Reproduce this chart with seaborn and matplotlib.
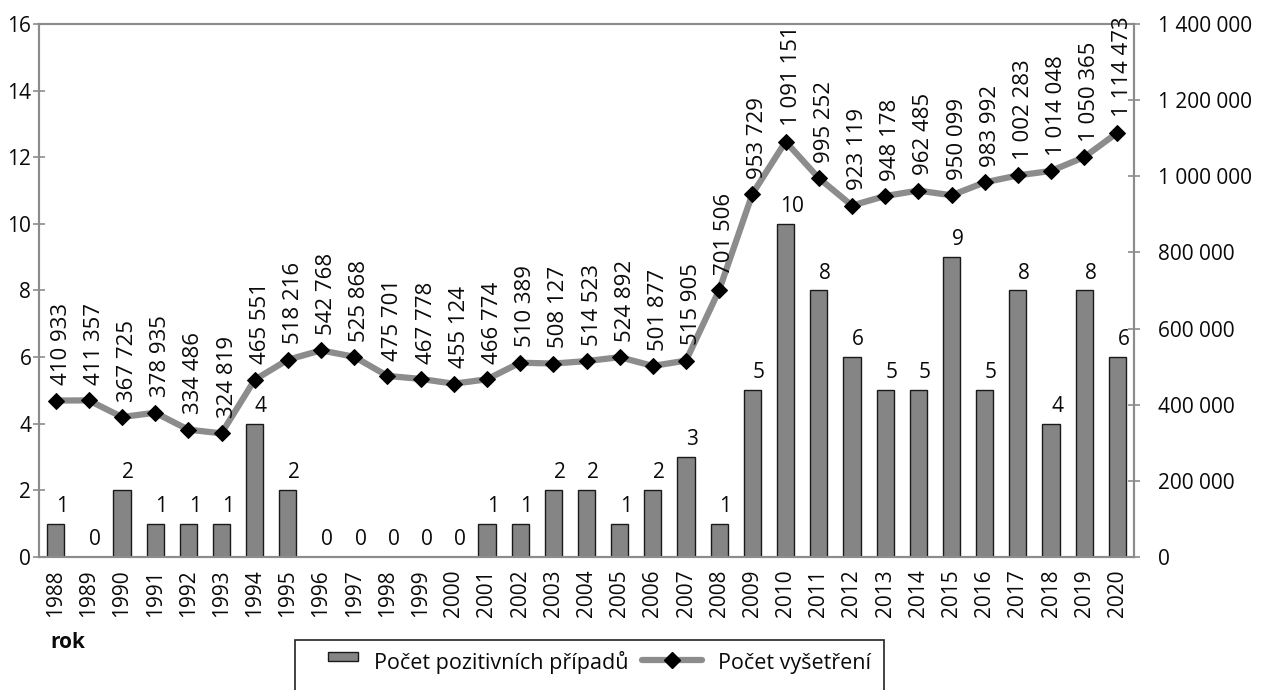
import numpy as np
import pandas as pd
import matplotlib
matplotlib.use("Agg")
import matplotlib.pyplot as plt
import seaborn as sns
from matplotlib.patches import Rectangle
from matplotlib.lines import Line2D
from matplotlib.legend_handler import HandlerPatch

years = [str(y) for y in range(1988, 2021)]
positives = [1, 0, 2, 1, 1, 1, 4, 2, 0, 0, 0, 0, 0, 1, 1, 2, 2, 1, 2, 3, 1,
             5, 10, 8, 6, 5, 5, 9, 5, 8, 4, 8, 6]
exams = [410933, 411357, 367725, 378935, 334486, 324819, 465551, 518216,
         542768, 525868, 475701, 467778, 455124, 466774, 510389, 508127,
         514523, 524892, 501877, 515905, 701506, 953729, 1091151, 995252,
         923119, 948178, 962485, 950099, 983992, 1002283, 1014048, 1050365,
         1114473]
left_ticks = [0, 2, 4, 6, 8, 10, 12, 14, 16]
right_ticks = [0, 200000, 400000, 600000, 800000, 1000000, 1200000, 1400000]
label_bars = "Počet pozitivních případů"
label_line = "Počet vyšetření"
xlabel = "rok"

sns.set_style("white")
plt.rcParams['font.family'] = ['Open Sans', 'DejaVu Sans']
FS = 15
FS_LINE = 16
FS_LEG = 15.5
TXT = '#0a0a0a'
SPINE = '#8c8c8c'
BAR = '#858585'
LINE = '#8c8c8c'

df = pd.DataFrame({"rok": years, "pos": positives, "exam": exams,
                   "idx": np.arange(len(years))})

fig = plt.figure(figsize=(12.62, 6.9), dpi=100)
ax = fig.add_axes([39/1262, 1-557/690, (1134-39)/1262, (557-24)/690])

sns.barplot(data=df, x="rok", y="pos", ax=ax, color=BAR, saturation=1,
            edgecolor='#1a1a1a', linewidth=1.0, width=0.52)
ax.set_xlim(-0.5, len(years)-0.5)
ax.set_ylim(0, 16)
ax.set_yticks(left_ticks)
ax.set_xlabel("")
ax.set_ylabel("")

for i, v in enumerate(positives):
    ax.annotate(str(v), (i, v), xytext=(4.5, 5), textcoords='offset points',
                ha='center', va='bottom', fontsize=FS, color=TXT)

ax2 = ax.twinx()
sns.lineplot(data=df, x="idx", y="exam", ax=ax2, color=LINE, linewidth=4.5,
             marker='D', markersize=8, markerfacecolor='black',
             markeredgecolor='black', sort=False)
ax2.set_ylim(0, 1400000)
ax2.set_yticks(right_ticks)
ax2.set_yticklabels([f"{t:,}".replace(",", " ") for t in right_ticks])
ax2.set_ylabel("")
ax2.set_xlabel("")
ax2.set_xlim(-0.5, len(years)-0.5)

for i, v in enumerate(exams):
    ax2.annotate(f"{v:,}".replace(",", " "), (i, v), xytext=(4, 11),
                 textcoords='offset points', rotation=90, ha='center',
                 va='bottom', fontsize=FS_LINE, color=TXT,
                 annotation_clip=False)

# x ticks: labels at centers, tick marks at boundaries
ax.set_xticks(np.arange(len(years)))
ax.set_xticklabels(years, rotation=90, fontsize=FS, color=TXT)
ax.set_xticks(np.arange(-0.5, len(years)), minor=True)
ax.tick_params(axis='x', which='major', length=0, pad=9)
ax.tick_params(axis='x', which='minor', direction='inout', length=9,
               width=1.2, color=SPINE)
ax.tick_params(axis='y', direction='inout', length=9, width=1.2,
               color=SPINE, labelsize=FS, labelcolor=TXT, pad=1)
ax2.tick_params(axis='y', direction='inout', length=9, width=1.2,
                color=SPINE, labelsize=FS, labelcolor=TXT, pad=13)
ax2.tick_params(axis='x', length=0, labelbottom=False)

for a in (ax, ax2):
    for s in a.spines.values():
        s.set_color(SPINE)
        s.set_linewidth(1.5)
        s.set_visible(True)

fig.text(50/1262, 1-648/690, xlabel, ha='left', va='baseline',
         fontsize=FS, fontweight='bold', color=TXT)

# legend
def small_rect(legend, orig_handle, xdescent, ydescent, width, height, fontsize):
    w = width * 0.5
    h = height * 0.5
    return Rectangle((xdescent + width - w, ydescent + (height - h) / 2), w, h)

bar_handle = Rectangle((0, 0), 1, 1, facecolor=BAR, edgecolor='#1a1a1a', linewidth=1.0)
line_handle = Line2D([], [], color=LINE, linewidth=4.5, marker='D',
                     markersize=8, markerfacecolor='black', markeredgecolor='black')
leg = fig.legend([bar_handle, line_handle], [label_bars, label_line],
                 loc='center left', bbox_to_anchor=(298/1262, 1-662/690),
                 ncol=2, frameon=False, fontsize=FS_LEG,
                 handlelength=2.8, handletextpad=0.75, columnspacing=0.6,
                 borderpad=0, borderaxespad=0, handleheight=1.0,
                 handler_map={Rectangle: HandlerPatch(patch_func=small_rect)})
for t in leg.get_texts():
    t.set_color(TXT)

frame = Rectangle((295/1262, -0.05), (884-295)/1262, 0.05 + (1-640/690),
                  transform=fig.transFigure, fill=False, edgecolor='#222222',
                  linewidth=1.2)
fig.patches.append(frame)

fig.savefig("out.png", dpi=100)
